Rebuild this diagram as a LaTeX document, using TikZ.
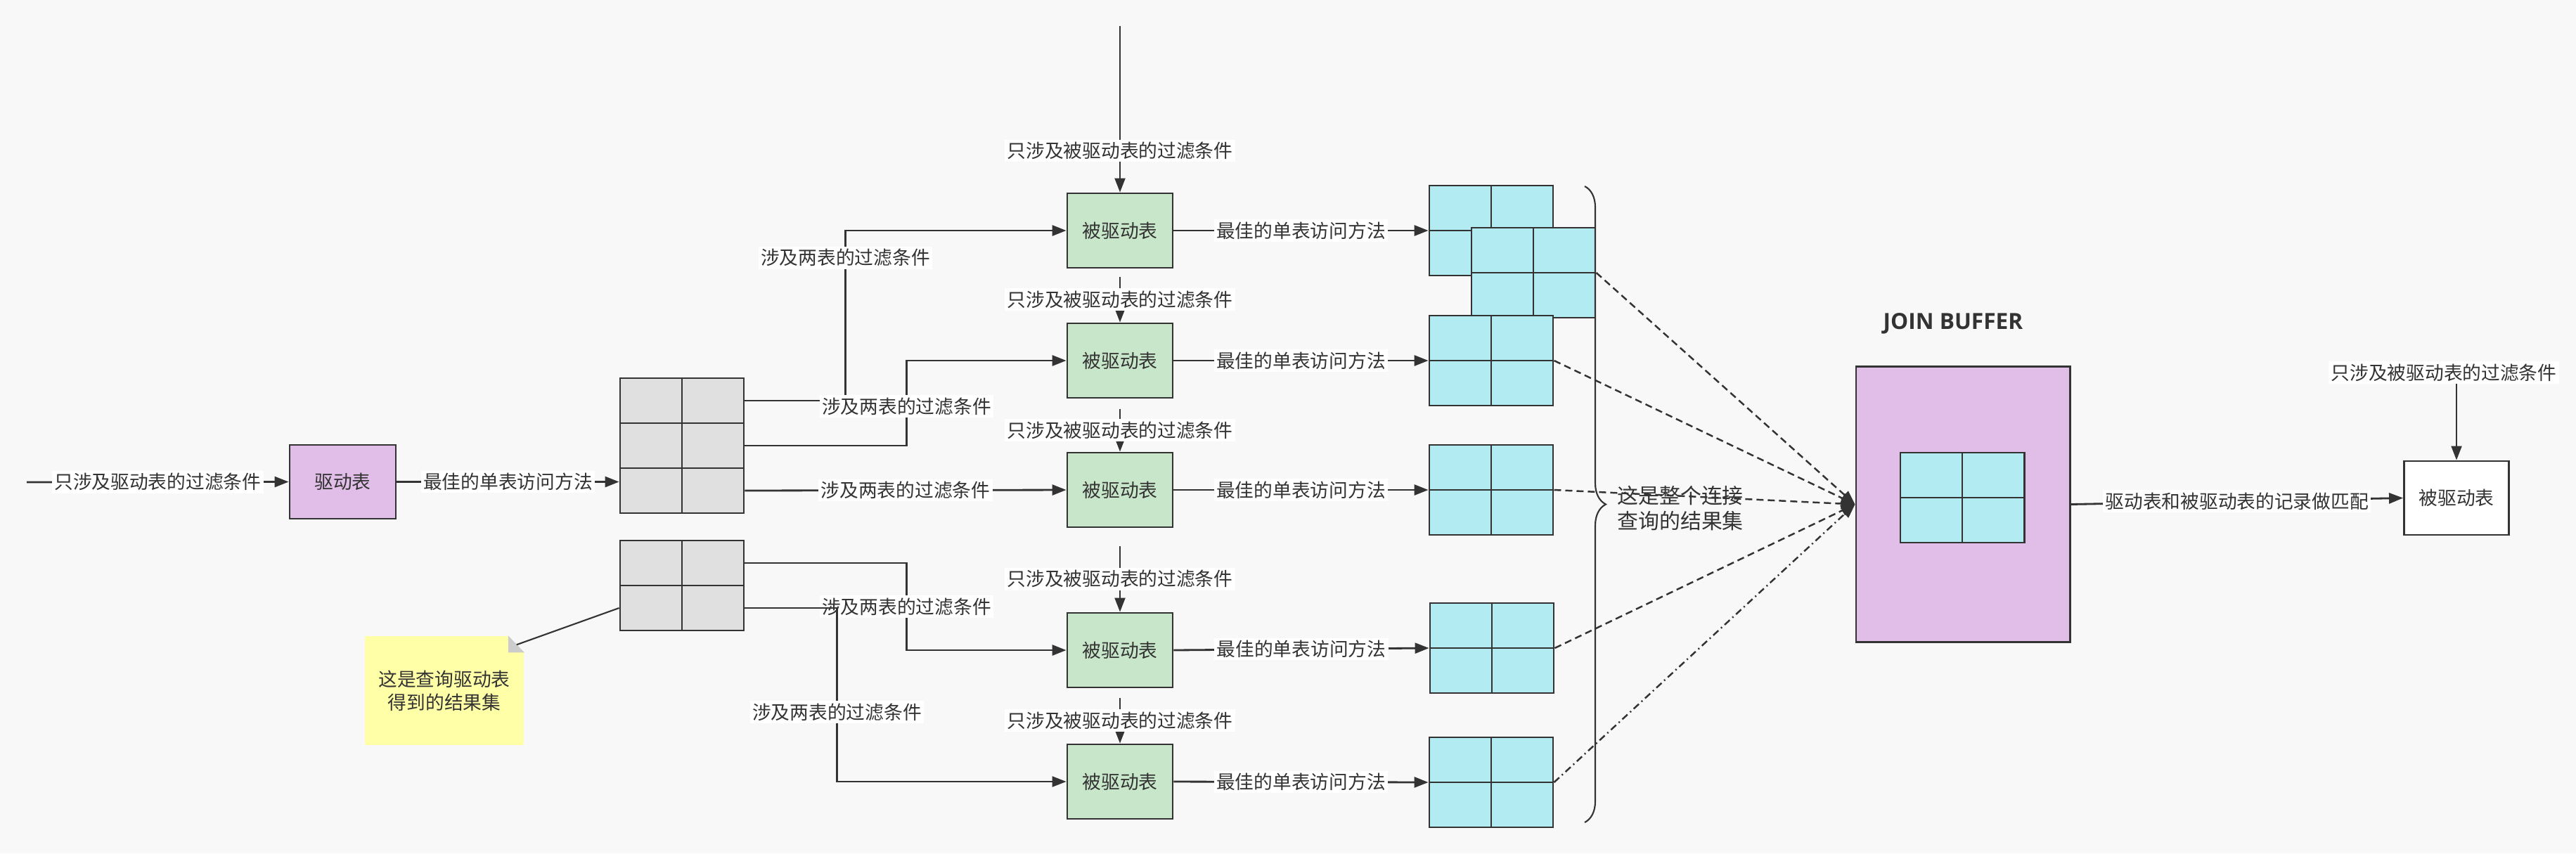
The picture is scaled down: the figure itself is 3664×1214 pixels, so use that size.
\documentclass[tikz,border=0pt]{standalone}
\usepackage{fontspec}
\setmainfont{Noto Sans CJK SC}
\newfontfamily\headfont{Open Sans}
\usepackage{xcolor}
\usepackage{tikz}
\usetikzlibrary{arrows.meta, positioning, decorations.pathreplacing}

\definecolor{ink}{HTML}{333333}
\definecolor{bgcol}{HTML}{F8F8F8}
\definecolor{drvpurple}{HTML}{E1BEE7}
\definecolor{innergreen}{HTML}{C8E6C9}
\definecolor{cellcyan}{HTML}{B2EBF2}
\definecolor{cellgray}{HTML}{E0E0E0}
\definecolor{noteyellow}{HTML}{FFFFA8}
\definecolor{foldgray}{HTML}{CCCCCC}

\begin{document}
\begin{tikzpicture}[x=0.01cm, y=-0.01cm, font=\fontsize{7.6pt}{9pt}\selectfont, text=ink]
		\tikzstyle{box} = [draw=ink, line width=0.8pt, rectangle, minimum width=1.5cm, minimum height=1.06cm, inner sep=0pt]
		\tikzstyle{drvbox} = [box, fill=drvpurple, minimum width=1.51cm, minimum height=1.05cm]
		\tikzstyle{innerbox} = [box, fill=innergreen]
		\tikzstyle{plainbox} = [box, fill=white, minimum width=1.49cm, minimum height=1.05cm]
		\tikzstyle{bufbox} = [box, fill=drvpurple, minimum width=3.04cm, minimum height=3.91cm]
		\tikzstyle{grayrow} = [box, fill=cellgray, minimum width=1.76cm, minimum height=0.64cm, path picture={\draw[ink, line width=0.8pt] (path picture bounding box.north) -- (path picture bounding box.south);}]
		\tikzstyle{rtable} = [box, fill=cellcyan, minimum width=1.76cm, minimum height=1.28cm, path picture={\draw[ink, line width=0.8pt] (path picture bounding box.north) -- (path picture bounding box.south) (path picture bounding box.west) -- (path picture bounding box.east);}]
		\tikzstyle{notebox} = [rectangle, fill=noteyellow, minimum width=2.26cm, minimum height=1.55cm, align=center, font=\fontsize{7.6pt}{9.4pt}\selectfont]
		\tikzstyle{lbl} = [fill=white, inner sep=1pt, text=ink]
		\tikzstyle{arrow} = [draw=ink, line width=0.8pt, -{Triangle[length=0.2cm, width=0.15cm]}]
		\tikzstyle{thinarrow} = [arrow, line width=0.6pt]
		\tikzstyle{dasharrow} = [arrow, line width=0.7pt, dash pattern=on 0.1cm off 0.06cm]
		\tikzstyle{dotarrow} = [arrow, line width=0.7pt, dash pattern=on 0.1cm off 0.05cm on 0.02cm off 0.05cm]
		
		\fill[bgcol] (0, 0) rectangle (3664, 1214);
		\useasboundingbox (0, 0) rectangle (3664, 1214);
		
		\coordinate (s0) at (38, 686);
		\node[drvbox]	at (487.5, 685.5)	(drv)	{驱动表};
		
		\node[grayrow]	at (970, 570)	(g1a)	{};
		\node[grayrow]	at (970, 634)	(g1b)	{};
		\node[grayrow]	at (970, 698)	(g1c)	{};
		\node[grayrow]	at (970, 801)	(g2a)	{};
		\node[grayrow]	at (970, 865)	(g2b)	{};
		
		\node[notebox]	at (632, 982.5)	(note)	{这是查询驱动表\\得到的结果集};
		\fill[bgcol] (note.north east) -- ++(-23, 0) -- ++(23, 24) -- cycle;
		\fill[foldgray] (note.north east) ++(-23, 0) -- ++(0, 24) -- ++(23, 0) -- cycle;
		
		\coordinate (s1) at (1593, 37);
		\coordinate (s2) at (1593, 394);
		\coordinate (s3) at (1593, 582);
		\coordinate (s4) at (1593, 777);
		\coordinate (s5) at (1593, 993);
		
		\node[innerbox]	at (1593, 328)	(d1)	{被驱动表};
		\node[innerbox]	at (1593, 513)	(d2)	{被驱动表};
		\node[innerbox]	at (1593, 697)	(d3)	{被驱动表};
		\node[innerbox]	at (1593, 925)	(d4)	{被驱动表};
		\node[innerbox]	at (1593, 1112)	(d5)	{被驱动表};
		
		\node[rtable]	at (2121, 328)	(t1)	{};
		\node[rtable]	at (2181, 388)	(t1b)	{};
		\node[rtable]	at (2121, 513)	(t2)	{};
		\node[rtable]	at (2121, 697)	(t3)	{};
		\node[rtable]	at (2122, 922)	(t4)	{};
		\node[rtable]	at (2121, 1113)	(t5)	{};
		
		\coordinate (bt) at (2254, 265);
		\coordinate (bb) at (2254, 1170);
		\node[anchor=west, align=left, font=\fontsize{8.5pt}{10.5pt}\selectfont] at (2288, 723) (restxt) {这是整个连接\\查询的结果集};
		
		\node[bufbox]	at (2792, 717.5)	(jb)	{};
		\node[rtable]	at (2791, 708)	(jt)	{};
		\node[font=\headfont\bfseries\fontsize{9pt}{11pt}\selectfont, above=0.33cm of jb, xshift=-0.14cm] (jbtitle) {JOIN BUFFER};
		
		\coordinate (s6) at (3494, 530);
		\node[plainbox]	at (3494, 708.5)	(wb)	{被驱动表};
		
		\draw [arrow] (s0) -- node[lbl] {只涉及驱动表的过滤条件} (drv.west);
		\draw [arrow] (drv.east) -- node[lbl] {最佳的单表访问方法} (drv.east -| g1c.west);
		
		\draw [arrow] (g1a.east) -- ++(143, 0) |- node[lbl, pos=0.42] {涉及两表的过滤条件} (d1.west);
		\draw [arrow] (g1b.east) -- ++(230, 0) |- node[lbl, pos=0.23] {涉及两表的过滤条件} (d2.west);
		\draw [arrow] (g1c.east) -- node[lbl] {涉及两表的过滤条件} (d3.west);
		\draw [arrow] (g2a.east) -- ++(230, 0) |- node[lbl, pos=0.25] {涉及两表的过滤条件} (d4.west);
		\draw [thinarrow] (g2b.east) -- ++(131, 0) |- node[lbl, pos=0.3] {涉及两表的过滤条件} (d5.west);
		\draw [ink, line width=0.6pt] (note.north east) ++(-11, 13) -- (g2b.west);
		
		\draw [thinarrow] (s1) -- node[lbl, pos=0.75] {只涉及被驱动表的过滤条件} (d1.north);
		\draw [thinarrow] (s2) -- node[lbl] {只涉及被驱动表的过滤条件} (d2.north);
		\draw [thinarrow] (s3) -- node[lbl] {只涉及被驱动表的过滤条件} (d3.north);
		\draw [thinarrow] (s4) -- node[lbl] {只涉及被驱动表的过滤条件} (d4.north);
		\draw [thinarrow] (s5) -- node[lbl] {只涉及被驱动表的过滤条件} (d5.north);
		
		\draw [arrow] (d1.east) -- node[lbl] {最佳的单表访问方法} (t1.west);
		\draw [arrow] (d2.east) -- node[lbl] {最佳的单表访问方法} (t2.west);
		\draw [arrow] (d3.east) -- node[lbl] {最佳的单表访问方法} (t3.west);
		\draw [arrow] (d4.east) -- node[lbl] {最佳的单表访问方法} (t4.west);
		\draw [arrow] (d5.east) -- node[lbl] {最佳的单表访问方法} (t5.west);
		
		\draw [ink, line width=0.6pt, decorate, decoration={brace, amplitude=0.3cm}] (bt) -- (bb);
		
		\draw [dasharrow] (t1b.east) -- (jb.west);
		\draw [dasharrow] (t2.east) -- (jb.west);
		\draw [dasharrow] (t3.east) -- (jb.west);
		\draw [dasharrow] (t4.east) -- (jb.west);
		\draw [dotarrow] (t5.east) -- (jb.west);
		
		\draw [arrow] (jb.east) -- node[lbl] {驱动表和被驱动表的记录做匹配} (wb.west);
		\draw [thinarrow] (s6) -- node[lbl, pos=0, xshift=-0.18cm] {只涉及被驱动表的过滤条件} (wb.north);
		
	\end{tikzpicture}
\end{document}
